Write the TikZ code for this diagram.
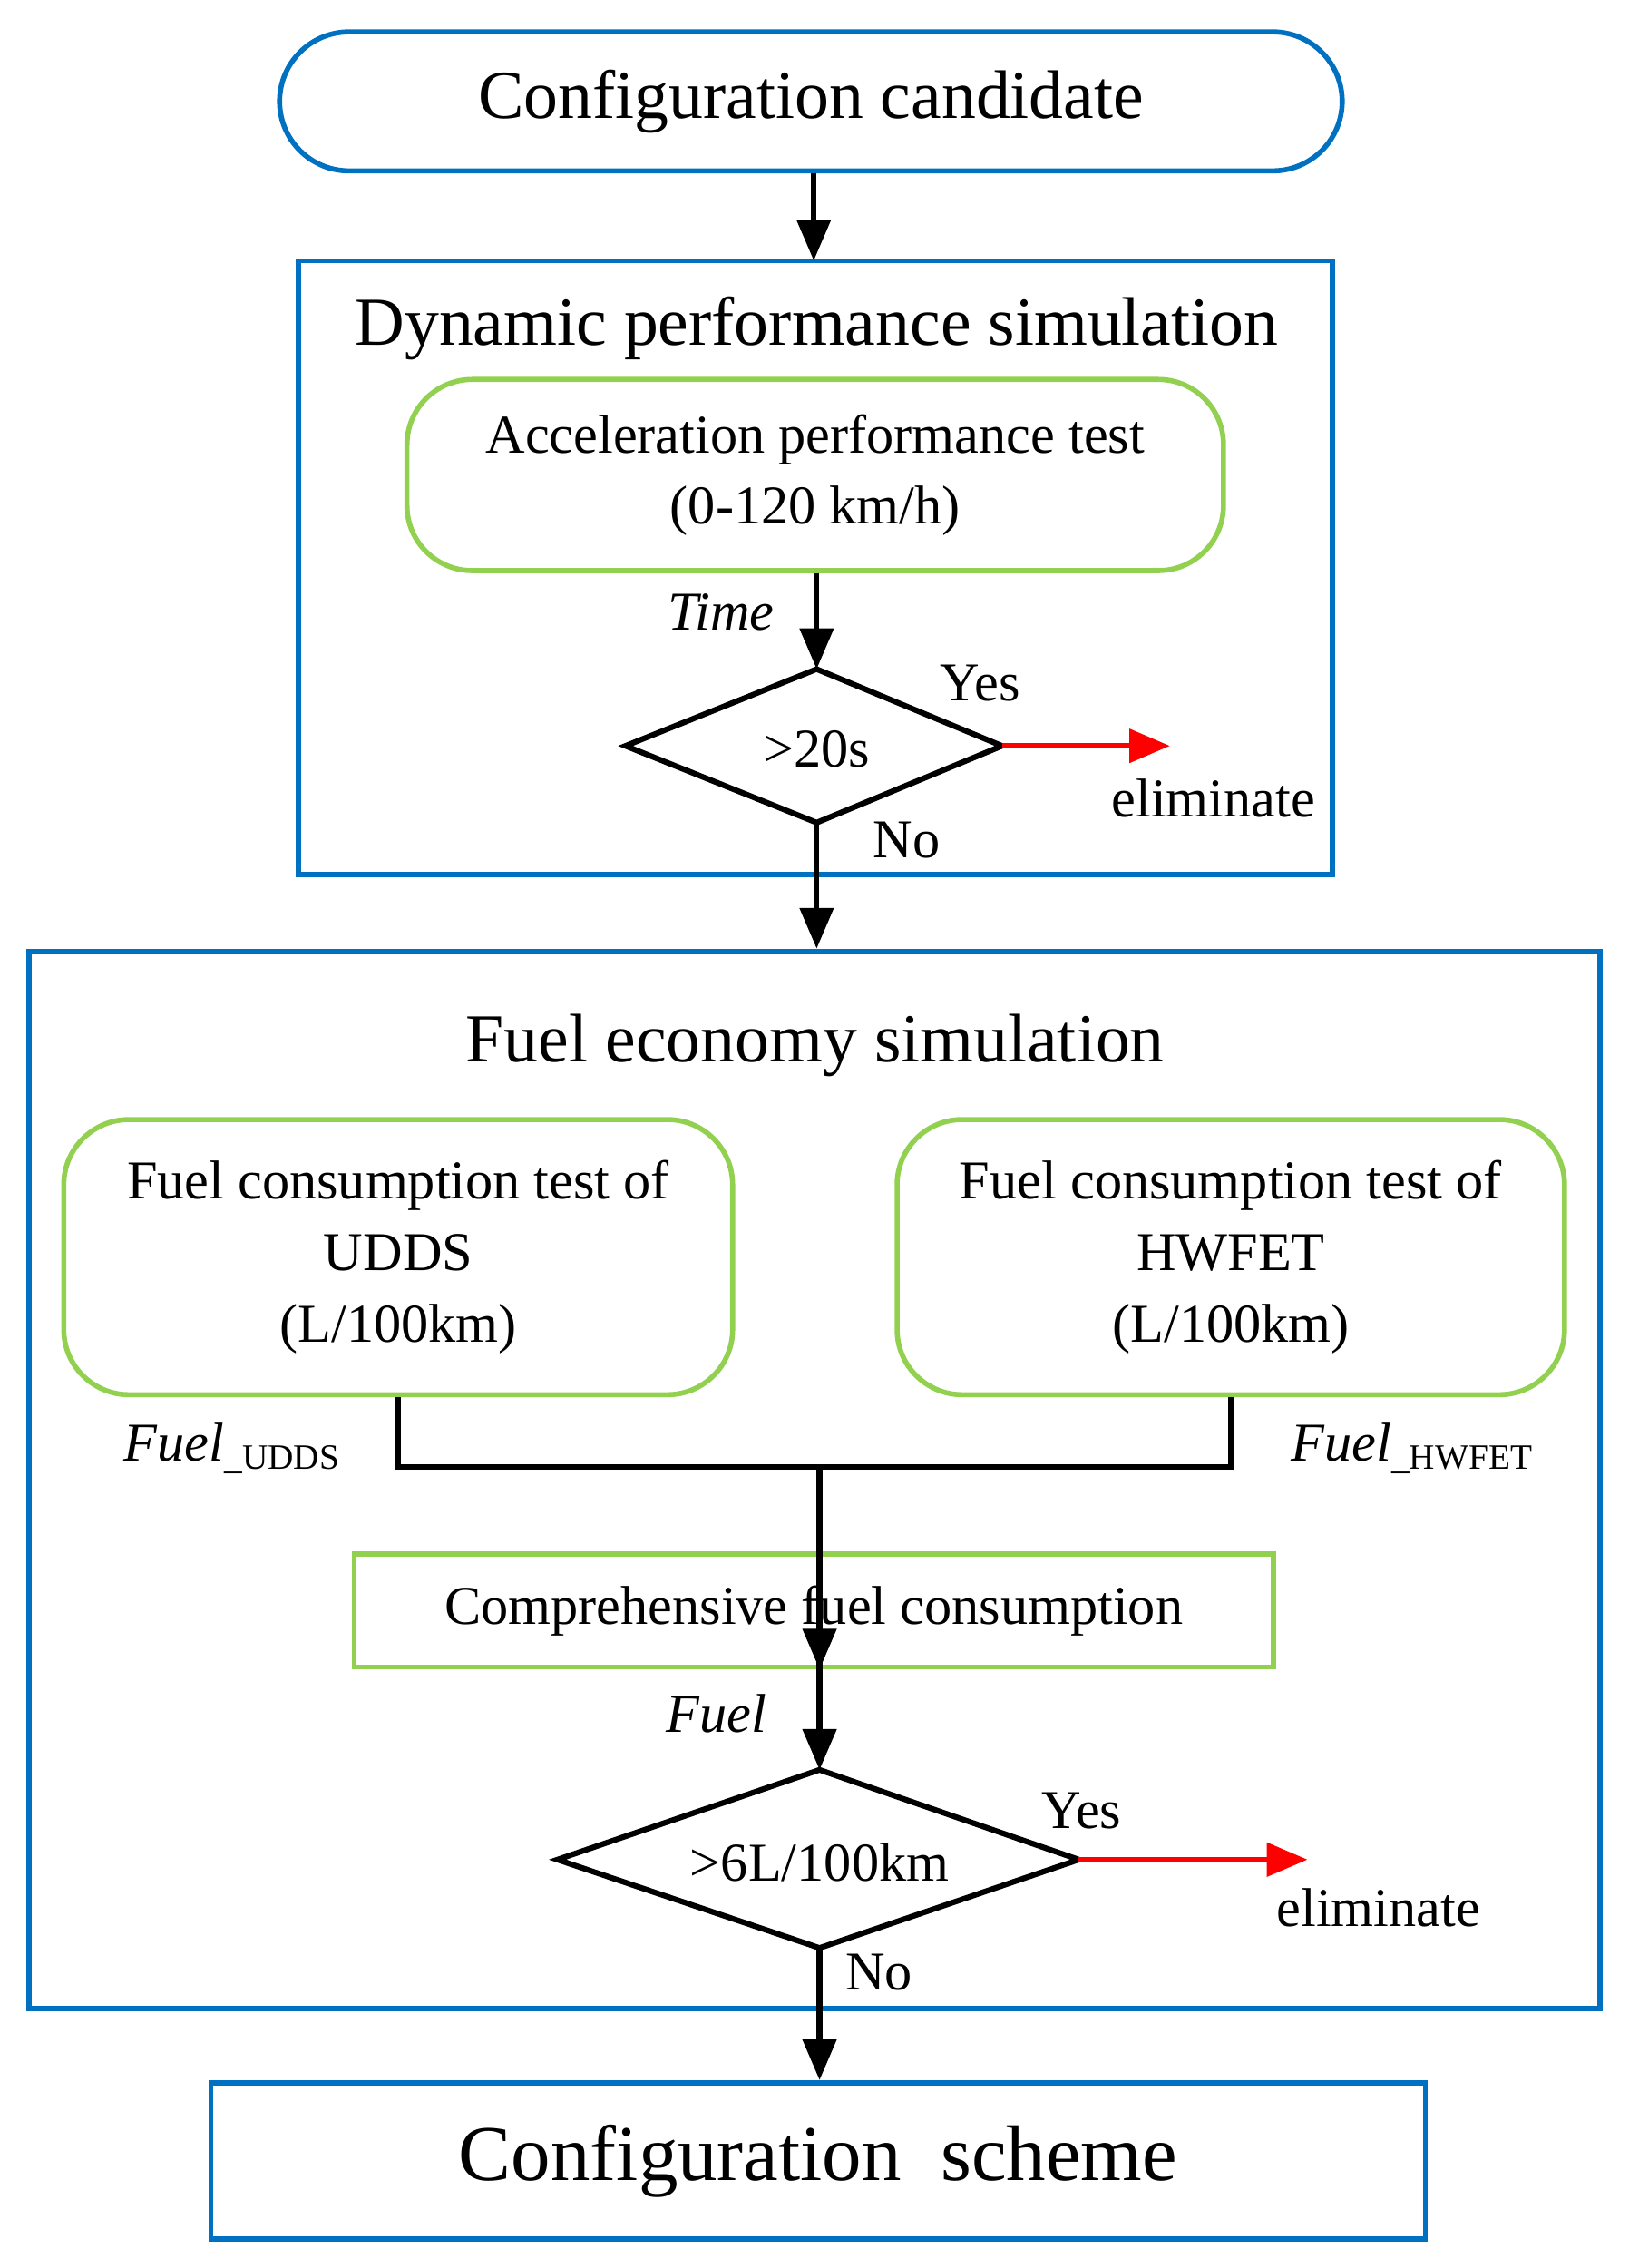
\documentclass[tikz,border=0pt]{standalone}
\usepackage{fontspec}
\setmainfont{Liberation Serif}
\usetikzlibrary{shapes.geometric,arrows.meta}
\definecolor{bl}{RGB}{0,112,192}
\definecolor{gr}{RGB}{146,208,80}
\begin{document}
\begin{tikzpicture}[x=0.02cm,y=-0.02cm,
 blue box/.style={draw=bl,line width=2pt},
 green box/.style={draw=gr,line width=2pt},
 arr/.style={line width=2.2pt,-{Triangle[length=16pt,width=13pt]}},
 rarr/.style={red,line width=2.2pt,-{Triangle[length=16pt,width=13pt]}},
 ln/.style={line width=2.2pt},
 big/.style={font=\fontsize{27}{32}\selectfont},
 mid/.style={font=\fontsize{21.5}{28}\selectfont}]
\useasboundingbox (0,0) rectangle (1125,1566);
\node[blue box,rounded corners=0.96cm,minimum width=14.68cm,minimum height=1.92cm,big] (top) at (560,70) {Configuration candidate};
\draw[blue box] (206,180) rectangle (920,604);
\node[big] (t1) at (564,227) {Dynamic performance simulation};
\node[green box,rounded corners=0.9cm,minimum width=11.28cm,minimum height=2.64cm,align=center,mid] (acc) at (563,328) {Acceleration performance test\\(0-120 km/h)};
% diamond 1
\coordinate (d1n) at (564,462); \coordinate (d1s) at (564,568);
\coordinate (d1w) at (432,515); \coordinate (d1e) at (692,515);
\draw[ln] (d1n) -- (d1e) -- (d1s) -- (d1w) -- cycle;
\node[mid] (d1) at (564,517) {>20s};
\coordinate (e1) at (808,515);
\node[mid,font=\fontsize{21.5}{24}\itshape] at (498,423) {Time};
\node[mid] at (677,472) {Yes};
\node[mid] at (838,551) {eliminate};
\node[mid] at (626,580) {No};
\draw[blue box] (20,657) rectangle (1105,1387);
\coordinate (b2) at (564,655);
\node[big] (t2) at (563,722) {Fuel economy simulation};
\node[green box,rounded corners=0.9cm,minimum width=9.24cm,minimum height=3.8cm,align=center,mid] (u) at (275,868) {Fuel consumption test of\\UDDS\\(L/100km)};
\node[green box,rounded corners=0.9cm,minimum width=9.22cm,minimum height=3.8cm,align=center,mid] (h) at (850,868) {Fuel consumption test of\\HWFET\\(L/100km)};
\coordinate (j) at (566,1013);
\node[green box,minimum width=12.7cm,minimum height=1.56cm,mid] (c) at (562,1112) {Comprehensive fuel consumption};
% diamond 2
\coordinate (d2n) at (566,1222); \coordinate (d2s) at (566,1345);
\coordinate (d2w) at (385,1284); \coordinate (d2e) at (745,1284);
\draw[ln] (d2n) -- (d2e) -- (d2s) -- (d2w) -- cycle;
\node[mid] (d2) at (566,1286) {>6L/100km};
\coordinate (e2) at (903,1284);
\node[mid] at (160,1000) {\textit{Fuel}\fontsize{14}{15}\selectfont\raisebox{-0.5ex}{\_UDDS}};
\node[mid] at (975,1000) {\textit{Fuel}\fontsize{14}{15}\selectfont\raisebox{-0.5ex}{\_HWFET}};
\node[mid] at (495,1183) {\textit{Fuel}};
\node[mid] at (747,1250) {Yes};
\node[mid] at (952,1317) {eliminate};
\node[mid] at (607,1362) {No};
\node[blue box,minimum width=16.78cm,minimum height=2.16cm,font=\fontsize{31}{36}\selectfont] (s) at (565,1492) {Configuration\ \ scheme};
\draw[arr] (top.south -| 562,0) -- (562,180);
\draw[arr] (acc.south -| d1n) -- (d1n);
\draw[rarr] (d1e) -- (e1);
\draw[arr] (d1s) -- (b2);
\draw[ln] (u.south) |- (j) -| (h.south);
\draw[arr] (j) -- (c.south -| j);
\draw[arr] (c.north -| d2n) -- (d2n);
\draw[rarr] (d2e) -- (e2);
\draw[arr] (d2s) -- (s.north -| d2s);
\end{tikzpicture}
\end{document}
